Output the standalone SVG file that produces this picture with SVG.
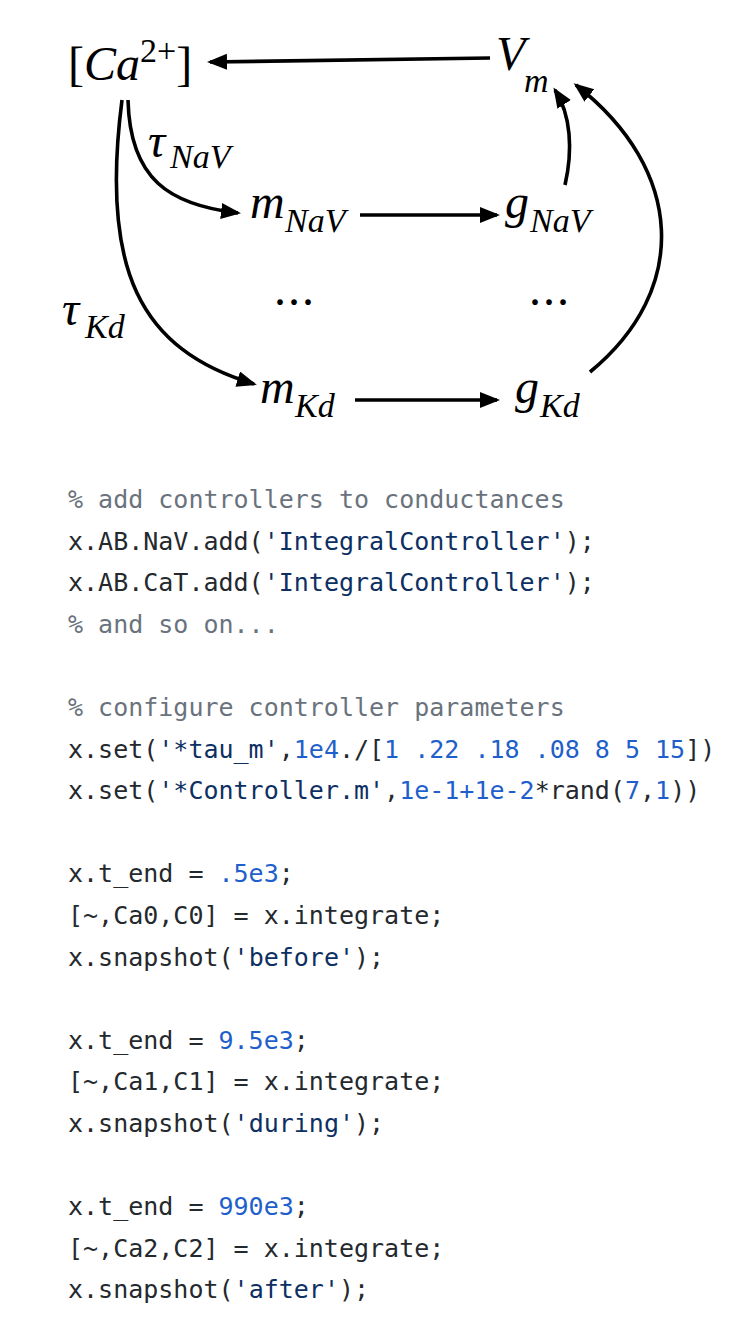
<svg xmlns="http://www.w3.org/2000/svg" width="756" height="1330" viewBox="0 0 756 1330">
<style>
.m{font-family:"Liberation Serif","Times New Roman",serif;font-size:48px;fill:#000}
.i{font-style:italic}
.s{font-size:34px}
.c{font-family:"DejaVu Sans Mono",monospace;font-size:25px;fill:#24292e;white-space:pre}
.cm{fill:#6a737d}
.st{fill:#0d2f62}
.n{fill:#1f5fcb}
.e{fill:none;stroke:#000;stroke-width:3.6}
</style>
<defs>
<marker id="ah" markerUnits="userSpaceOnUse" markerWidth="22" markerHeight="18" refX="17" refY="8" orient="auto">
<path d="M0,0 L20,8 L0,16 Z" fill="#000"/>
</marker>
</defs>
<rect width="756" height="1330" fill="#fff"/>
<g id="connectors">
<path class="e" marker-end="url(#ah)" d="M490,58 L210,62"/>
<path class="e" marker-end="url(#ah)" d="M360,215 L497,215"/>
<path class="e" marker-end="url(#ah)" d="M355,400 L497,400"/>
<path class="e" marker-end="url(#ah)" d="M128,100 C130,180 170,205 238,213"/>
<path class="e" marker-end="url(#ah)" d="M122,100 C100,270 140,350 254,384"/>
<path class="e" marker-end="url(#ah)" d="M565,185 C573,150 571,115 555,90"/>
<path class="e" marker-end="url(#ah)" d="M590,372 C690,290 685,170 576,85"/>
</g>
<g id="node-ca"><text class="m" x="68" y="80">[<tspan class="i">Ca</tspan><tspan class="s" dy="-18">2+</tspan><tspan dy="18">]</tspan></text></g>
<g id="node-vm"><text class="m i" x="496" y="70" font-size="52">V<tspan class="s" x="524" y="92">m</tspan></text></g>
<g id="label-tau-nav"><text class="m i" x="148" y="157">τ<tspan class="s" x="170" y="168">NaV</tspan></text></g>
<g id="label-tau-kd"><text class="m i" x="62" y="325">τ<tspan class="s" x="85" y="338">Kd</tspan></text></g>
<g id="node-mnav"><text class="m i" x="250" y="218">m<tspan class="s" x="285" y="232">NaV</tspan></text></g>
<g id="node-gnav"><text class="m i" x="505" y="218">g<tspan class="s" x="530" y="232">NaV</tspan></text></g>
<g id="dots-1"><text class="m" x="274" y="305" letter-spacing="2">...</text></g>
<g id="dots-2"><text class="m" x="529" y="305" letter-spacing="2">...</text></g>
<g id="node-mkd"><text class="m i" x="260" y="403">m<tspan class="s" x="295" y="417">Kd</tspan></text></g>
<g id="node-gkd"><text class="m i" x="515" y="403">g<tspan class="s" x="540" y="417">Kd</tspan></text></g>
<g id="code">
<text class="c cm" x="68" y="508">% add controllers to conductances</text>
<text class="c" x="68" y="549.6">x.AB.NaV.add(<tspan class="st">'IntegralController'</tspan>);</text>
<text class="c" x="68" y="591.2">x.AB.CaT.add(<tspan class="st">'IntegralController'</tspan>);</text>
<text class="c cm" x="68" y="632.8">% and so on...</text>
<text class="c cm" x="68" y="716">% configure controller parameters</text>
<text class="c" x="68" y="757.6">x.set(<tspan class="st">'*tau_m'</tspan>,<tspan class="n">1e4</tspan>./[<tspan class="n">1 .22 .18 .08 8 5 15</tspan>])</text>
<text class="c" x="68" y="799.2">x.set(<tspan class="st">'*Controller.m'</tspan>,<tspan class="n">1e-1+1e-2</tspan>*rand(<tspan class="n">7</tspan>,<tspan class="n">1</tspan>))</text>
<text class="c" x="68" y="882.4">x.t_end = <tspan class="n">.5e3</tspan>;</text>
<text class="c" x="68" y="924">[~,Ca0,C0] = x.integrate;</text>
<text class="c" x="68" y="965.6">x.snapshot(<tspan class="st">'before'</tspan>);</text>
<text class="c" x="68" y="1048.8">x.t_end = <tspan class="n">9.5e3</tspan>;</text>
<text class="c" x="68" y="1090.4">[~,Ca1,C1] = x.integrate;</text>
<text class="c" x="68" y="1132">x.snapshot(<tspan class="st">'during'</tspan>);</text>
<text class="c" x="68" y="1215.2">x.t_end = <tspan class="n">990e3</tspan>;</text>
<text class="c" x="68" y="1256.8">[~,Ca2,C2] = x.integrate;</text>
<text class="c" x="68" y="1298.4">x.snapshot(<tspan class="st">'after'</tspan>);</text>
</g>
</svg>
